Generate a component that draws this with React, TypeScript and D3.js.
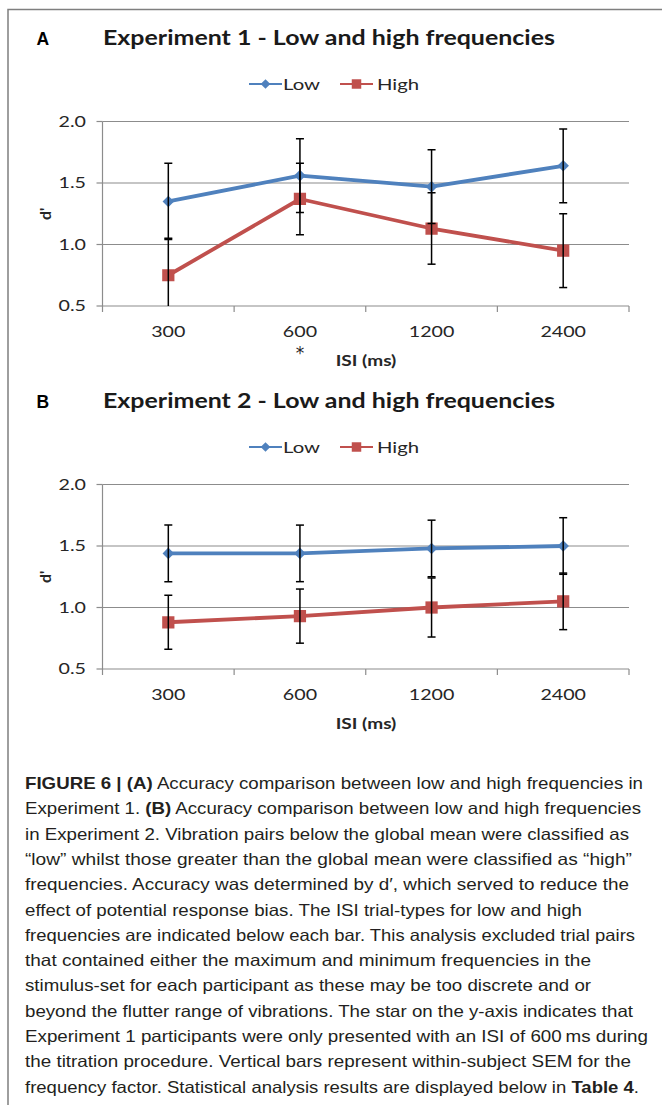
import React, { useRef, useEffect } from 'react';
import * as d3 from 'd3';

// ISI categories (ms)
const categories = ['300', '600', '1200', '2400'];
const yTicks = [0.5, 1.0, 1.5, 2.0];
const seriesNames = ['Low', 'High'];

// Experiment 1 d' and SEM
const exp1Low = [1.35, 1.56, 1.47, 1.64];
const exp1LowSem = [0.31, 0.3, 0.3, 0.3];
const exp1High = [0.75, 1.37, 1.13, 0.95];
const exp1HighSem = [0.3, 0.29, 0.29, 0.3];

// Experiment 2 d' and SEM
const exp2Low = [1.44, 1.44, 1.48, 1.5];
const exp2LowSem = [0.23, 0.23, 0.23, 0.23];
const exp2High = [0.88, 0.93, 1.0, 1.05];
const exp2HighSem = [0.22, 0.22, 0.24, 0.23];

const captionLines: [string, boolean][][] = [
  [['FIGURE 6 | (A)', true], [' Accuracy comparison between low and high frequencies in', false]],
  [['Experiment 1. ', false], ['(B)', true], [' Accuracy comparison between low and high frequencies', false]],
  [['in Experiment 2. Vibration pairs below the global mean were classified as', false]],
  [['\u201Clow\u201D whilst those greater than the global mean were classified as \u201Chigh\u201D', false]],
  [['frequencies. Accuracy was determined by d\u2032, which served to reduce the', false]],
  [['effect of potential response bias. The ISI trial-types for low and high', false]],
  [['frequencies are indicated below each bar. This analysis excluded trial pairs', false]],
  [['that contained either the maximum and minimum frequencies in the', false]],
  [['stimulus-set for each participant as these may be too discrete and or', false]],
  [['beyond the flutter range of vibrations. The star on the y-axis indicates that', false]],
  [['Experiment 1 participants were only presented with an ISI of 600\u2009ms during', false]],
  [['the titration procedure. Vertical bars represent within-subject SEM for the', false]],
  [['frequency factor. Statistical analysis results are displayed below in ', false], ['Table 4', true], ['.', false]],
];
const captionEnds = [643, 641, 629, 632, 629, 582, 635, 591, 591, 633, 648, 631, 639];

const W = 662;
const H = 1105;
const BLUE = '#4f81bd';
const RED = '#c0504d';
const FONT = 'Lato, "Open Sans", sans-serif';
const SX = 1.27; // source figure is stretched horizontally

interface PanelSpec {
  letter: string;
  title: string;
  top: number;
  low: number[];
  lowSem: number[];
  high: number[];
  highSem: number[];
  star: boolean;
}

const App: React.FC = () => {
  const svgRef = useRef<SVGSVGElement>(null);

  useEffect(() => {
    if (!svgRef.current) return;
    const svg = d3.select(svgRef.current);
    svg.selectAll('*').remove();

    svg.append('rect').attr('width', W).attr('height', H).attr('fill', '#fff');

    // frame
    svg.append('path')
      .attr('d', `M8,${H} V9.5 H${W}`)
      .attr('fill', 'none')
      .attr('stroke', '#7f7f7f')
      .attr('stroke-width', 1.5);

    const stretched = (g: d3.Selection<SVGGElement, unknown, null, undefined>, x: number, y: number, txt: string, anchor: string, size: number, weight = 'normal') =>
      g.append('text')
        .attr('transform', `translate(${x},${y}) scale(${SX},1)`)
        .attr('text-anchor', anchor)
        .attr('dy', '0.35em')
        .style('font-family', FONT)
        .style('font-size', size + 'px')
        .style('font-weight', weight)
        .attr('fill', '#262626')
        .text(txt);

    const x = d3.scaleBand<string>().domain(categories).range([102.5, 629]).padding(0);
    const cx = (c: string) => (x(c) as number) + x.bandwidth() / 2;

    const panels: PanelSpec[] = [
      { letter: 'A', title: 'Experiment 1 - Low and high frequencies', top: 121.5, low: exp1Low, lowSem: exp1LowSem, high: exp1High, highSem: exp1HighSem, star: true },
      { letter: 'B', title: 'Experiment 2 - Low and high frequencies', top: 484.5, low: exp2Low, lowSem: exp2LowSem, high: exp2High, highSem: exp2HighSem, star: false },
    ];

    panels.forEach((p, pi) => {
      const g = svg.append('g');
      const bottom = p.top + 184.5;
      const y = d3.scaleLinear().domain([0.5, 2]).range([bottom, p.top]);

      // panel letter + title
      g.append('text')
        .attr('x', 36.5).attr('y', p.top - 77)
        .style('font-family', '"Liberation Sans", Arial, sans-serif')
        .style('font-size', '17.5px').style('font-weight', 'bold')
        .attr('fill', '#000')
        .text(p.letter);
      g.append('text')
        .attr('x', 103).attr('y', p.top - 76.5)
        .attr('textLength', 452).attr('lengthAdjust', 'spacingAndGlyphs')
        .style('font-family', FONT)
        .style('font-size', '20.5px').style('font-weight', 'bold')
        .attr('fill', '#1a1a1a')
        .text(p.title);

      // legend
      const ly = p.top - 37.5;
      const legendItems = [
        { name: seriesNames[0], color: BLUE, x0: 249, mk: 'diamond', tx: 283 },
        { name: seriesNames[1], color: RED, x0: 340, mk: 'square', tx: 377 },
      ];
      legendItems.forEach(li => {
        g.append('line')
          .attr('x1', li.x0).attr('x2', li.x0 + 33)
          .attr('y1', ly).attr('y2', ly)
          .attr('stroke', li.color).attr('stroke-width', 2);
        g.append('path')
          .attr('d', d3.symbol().type(li.mk === 'diamond' ? d3.symbolDiamond2 : d3.symbolSquare).size(li.mk === 'diamond' ? 60 : 90)() as string)
          .attr('transform', `translate(${li.x0 + 16.5},${ly})`)
          .attr('fill', li.color);
        stretched(g, li.tx, ly, li.name, 'start', 16);
      });

      // gridlines
      g.selectAll('.grid')
        .data(yTicks)
        .enter().append('line')
        .attr('x1', 102.5).attr('x2', 629)
        .attr('y1', d => y(d)).attr('y2', d => y(d))
        .attr('stroke', '#8c8c8c').attr('stroke-width', 1.2);

      // y axis
      g.append('line')
        .attr('x1', 102.5).attr('x2', 102.5)
        .attr('y1', p.top).attr('y2', bottom)
        .attr('stroke', '#8c8c8c').attr('stroke-width', 1.2);
      g.selectAll('.ytick')
        .data(yTicks)
        .enter().append('line')
        .attr('x1', 96.5).attr('x2', 102.5)
        .attr('y1', d => y(d)).attr('y2', d => y(d))
        .attr('stroke', '#8c8c8c').attr('stroke-width', 1.2);
      yTicks.forEach(t => stretched(g, 86, y(t), d3.format('.1f')(t), 'end', 15.5));

      // x axis ticks at band edges
      const edges = categories.map(c => x(c) as number).concat([629]);
      g.selectAll('.xtick')
        .data(edges)
        .enter().append('line')
        .attr('x1', d => d).attr('x2', d => d)
        .attr('y1', bottom).attr('y2', bottom + 6)
        .attr('stroke', '#8c8c8c').attr('stroke-width', 1.2);
      categories.forEach(c => stretched(g, cx(c), bottom + 26, c, 'middle', 15.5));
      if (p.star) {
        // asterisk sits high in the em box, so push the baseline down
        g.append('text')
          .attr('x', cx('600'))
          .attr('y', bottom + 53)
          .attr('text-anchor', 'middle')
          .style('font-family', '"DejaVu Sans", sans-serif')
          .style('font-size', '17px')
          .attr('fill', '#262626')
          .text('*');
      }
      stretched(g, 366, bottom + 54.5, 'ISI (ms)', 'middle', 15, 'bold');

      // y label
      g.append('text')
        .attr('transform', `translate(45,${(p.top + bottom) / 2}) rotate(-90)`)
        .attr('text-anchor', 'middle')
        .attr('dy', '0.35em')
        .style('font-family', FONT)
        .style('font-size', '16px').style('font-weight', 'bold')
        .attr('fill', '#262626')
        .text("d'");

      // clip for plot area
      const clipId = `clip-${pi}`;
      svg.append('clipPath').attr('id', clipId)
        .append('rect')
        .attr('x', 102.5).attr('y', p.top - 10)
        .attr('width', 526.5).attr('height', bottom - p.top + 10);
      const plot = g.append('g').attr('clip-path', `url(#${clipId})`);

      const line = d3.line<number>()
        .x((d, i) => cx(categories[i]))
        .y(d => y(d));

      const series = [
        { vals: p.low, sem: p.lowSem, color: BLUE, mk: 'diamond' },
        { vals: p.high, sem: p.highSem, color: RED, mk: 'square' },
      ];

      series.forEach(s => {
        plot.append('path')
          .attr('d', line(s.vals) as string)
          .attr('fill', 'none')
          .attr('stroke', s.color)
          .attr('stroke-width', 3.8)
          .attr('stroke-linejoin', 'round');
        plot.selectAll(null)
          .data(s.vals)
          .enter().append('path')
          .attr('d', d3.symbol().type(s.mk === 'diamond' ? d3.symbolDiamond2 : d3.symbolSquare).size(s.mk === 'diamond' ? 85 : 150)() as string)
          .attr('transform', (d, i) => `translate(${cx(categories[i])},${y(d)})`)
          .attr('fill', s.color);
      });

      // error bars on top
      series.forEach(s => {
        s.vals.forEach((v, i) => {
          const xc = cx(categories[i]);
          const y1 = y(v + s.sem[i]);
          const y0 = y(v - s.sem[i]);
          plot.append('line')
            .attr('x1', xc).attr('x2', xc).attr('y1', y1).attr('y2', y0)
            .attr('stroke', '#000').attr('stroke-width', 1.5);
          [y1, y0].forEach(yy => {
            plot.append('line')
              .attr('x1', xc - 4).attr('x2', xc + 4).attr('y1', yy).attr('y2', yy)
              .attr('stroke', '#000').attr('stroke-width', 1.5);
          });
        });
      });
    });

    // caption
    const cap = svg.append('g');
    captionLines.forEach((parts, i) => {
      const t = cap.append('text')
        .attr('x', 25)
        .attr('y', 789 + i * 25.3)
        .attr('textLength', captionEnds[i] - 25)
        .attr('lengthAdjust', 'spacingAndGlyphs')
        .style('font-family', '"Liberation Sans Narrow", "Liberation Sans", Arial, sans-serif')
        .style('font-size', '16.5px')
        .attr('fill', '#231f20');
      parts.forEach(([txt, bold]) => {
        t.append('tspan')
          .style('font-weight', bold ? 'bold' : 'normal')
          .text(txt);
      });
    });
  }, []);

  return (
    <svg
      ref={svgRef}
      width={W}
      height={H}
      style={{ position: 'absolute', left: 0, top: 0, display: 'block' }}
    />
  );
};

export default App;
